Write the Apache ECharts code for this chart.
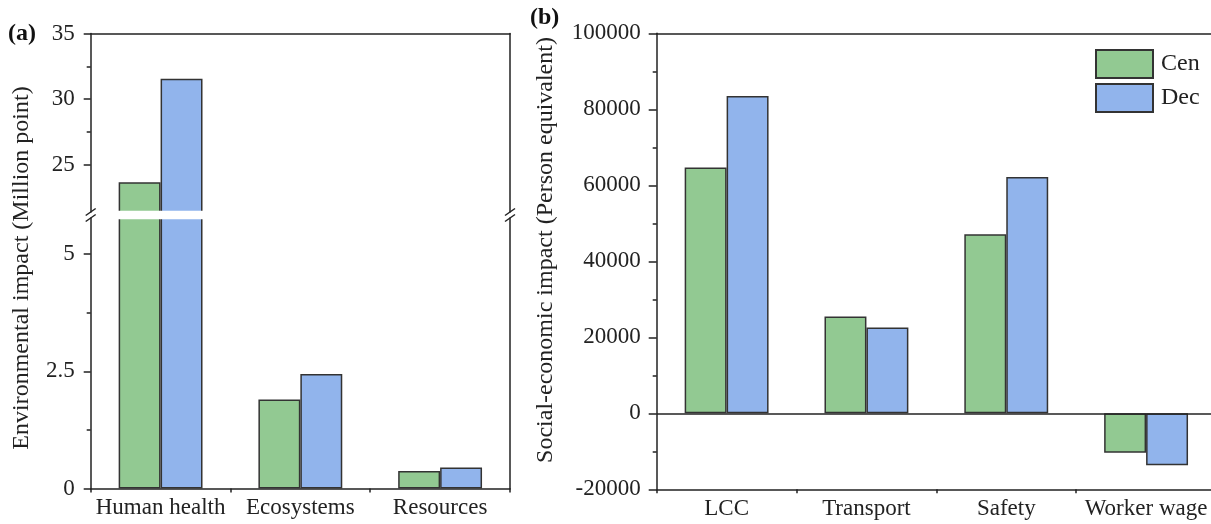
<!DOCTYPE html>
<html>
<head>
<meta charset="utf-8">
<script src="https://cdn.jsdelivr.net/npm/echarts@6/dist/echarts.min.js"></script>
<style>
html,body{margin:0;padding:0;background:#fff;}
#c{width:1211px;height:524px;}
</style>
</head>
<body>
<div id="c"></div>
<script>
// ---- data ----
const categoriesA = ['Human health', 'Ecosystems', 'Resources'];
const cenA = [23.66, 1.90, 0.375];
const decA = [31.55, 2.44, 0.45];
const categoriesB = ['LCC', 'Transport', 'Safety', 'Worker wage'];
const cenB = [64700, 25500, 47100, -10400];
const decB = [83500, 22600, 62200, -13700];
const seriesNames = ['Cen', 'Dec'];
const upperLabelTicks = [25, 30, 35];
const upperMinorTicks = [27.5, 32.5];
const lowerLabelTicks = [0, 2.5, 5];
const lowerMinorTicks = [1.25, 3.75];

// ---- layout / style ----
const FONT = "'Liberation Serif', 'Times New Roman', serif";
const AX = '#222';
const GREEN = '#92C992';
const BLUE = '#91B4EC';
const EDGE = '#333';
const upperMin = 21.39, upperMax = 35, lowerMin = 0, lowerMax = 5.77;
const gA = {left: 90.7, width: 419.3};
const gUpper = {top: 33.5, height: 178.5};
const gLower = {top: 218, height: 270.5};
const gB = {left: 656.7, width: 559.3, top: 33.3, height: 456};

const chart = echarts.init(document.getElementById('c'), null, {renderer: 'canvas'});

const lineOnly = {show: true, lineStyle: {color: AX, width: 1.5}};
function catAxis(grid, data, pos, withLabels) {
  return {
    type: 'category', gridIndex: grid, data: data, position: pos,
    axisLine: Object.assign({onZero: false}, lineOnly),
    axisTick: withLabels ? {show: true, length: 4, inside: false, lineStyle: {color: AX, width: 1.5}} : {show: false},
    axisLabel: withLabels ? {show: true, interval: 0, color: '#222', fontFamily: FONT, fontSize: 23, margin: 8} : {show: false},
    splitLine: {show: false}
  };
}
function valAxis(grid, min, max, pos, opts) {
  return Object.assign({
    type: 'value', gridIndex: grid, min: min, max: max, position: pos,
    axisLine: {show: false}, axisTick: {show: false}, axisLabel: {show: false},
    splitLine: {show: false}
  }, opts);
}
const tickStyle = {color: AX, width: 1.5};
const labelStyle = {color: '#222', fontFamily: FONT, fontSize: 23, margin: 16};

const upperData = (arr) => arr.map(v => v > lowerMax ? v : '-');
const barCommon = {barGap: '0%', barCategoryGap: '40%', animation: false};

const option = {
  animation: false,
  grid: [
    Object.assign({outerBoundsMode: 'none', containLabel: false}, gA, gUpper),
    Object.assign({outerBoundsMode: 'none', containLabel: false}, gA, gLower),
    Object.assign({outerBoundsMode: 'none', containLabel: false}, gB)
  ],
  xAxis: [
    catAxis(0, categoriesA, 'top', false),
    catAxis(1, categoriesA, 'bottom', true),
    catAxis(2, categoriesB, 'bottom', true),
    catAxis(2, categoriesB, 'top', false)
  ],
  yAxis: [
    valAxis(0, upperMin, upperMax, 'left', {
      axisLine: lineOnly,
      axisLabel: Object.assign({show: true, customValues: upperLabelTicks}, labelStyle),
      axisTick: {show: true, length: 7, customValues: upperLabelTicks, lineStyle: tickStyle}
    }),
    valAxis(0, upperMin, upperMax, 'left', {
      axisTick: {show: true, length: 4, customValues: upperMinorTicks, lineStyle: tickStyle}
    }),
    valAxis(0, upperMin, upperMax, 'right', {axisLine: lineOnly}),
    valAxis(1, lowerMin, lowerMax, 'left', {
      axisLine: lineOnly,
      axisLabel: Object.assign({show: true, customValues: lowerLabelTicks}, labelStyle),
      axisTick: {show: true, length: 7, customValues: lowerLabelTicks, lineStyle: tickStyle}
    }),
    valAxis(1, lowerMin, lowerMax, 'left', {
      axisTick: {show: true, length: 4, customValues: lowerMinorTicks, lineStyle: tickStyle}
    }),
    valAxis(1, lowerMin, lowerMax, 'right', {axisLine: lineOnly}),
    valAxis(2, -20000, 100000, 'left', {
      interval: 20000,
      axisLine: lineOnly,
      axisLabel: Object.assign({show: true, formatter: (v) => String(v)}, labelStyle),
      axisTick: {show: true, length: 8, lineStyle: tickStyle},
      minorTick: {show: true, splitNumber: 2, length: 4, lineStyle: tickStyle}
    })
  ],
  legend: {
    data: seriesNames, orient: 'vertical', left: 1095, top: 49, padding: 0,
    itemWidth: 57, itemHeight: 28, itemGap: 4, icon: 'rect',
    textStyle: {fontFamily: FONT, fontSize: 24, color: '#222', padding: [0, 0, 0, 3]}
  },
  series: [
    Object.assign({type: 'bar', name: 'Cen', xAxisIndex: 0, yAxisIndex: 0, data: upperData(cenA),
      itemStyle: {color: GREEN, borderColor: EDGE, borderWidth: 1.5}}, barCommon),
    Object.assign({type: 'bar', name: 'Dec', xAxisIndex: 0, yAxisIndex: 0, data: upperData(decA),
      itemStyle: {color: BLUE, borderColor: EDGE, borderWidth: 1.5}}, barCommon),
    Object.assign({type: 'bar', name: 'Cen', xAxisIndex: 1, yAxisIndex: 3, data: cenA,
      itemStyle: {color: GREEN, borderColor: EDGE, borderWidth: 1.5}}, barCommon),
    Object.assign({type: 'bar', name: 'Dec', xAxisIndex: 1, yAxisIndex: 3, data: decA,
      itemStyle: {color: BLUE, borderColor: EDGE, borderWidth: 1.5}}, barCommon),
    Object.assign({type: 'bar', name: 'Cen', xAxisIndex: 2, yAxisIndex: 6, data: cenB,
      itemStyle: {color: GREEN, borderColor: EDGE, borderWidth: 1.5},
      markLine: {silent: true, symbol: 'none', animation: false, label: {show: false},
        lineStyle: {color: AX, width: 1.5, type: 'solid'}, data: [{yAxis: 0}]}}, barCommon),
    Object.assign({type: 'bar', name: 'Dec', xAxisIndex: 2, yAxisIndex: 6, data: decB,
      itemStyle: {color: BLUE, borderColor: EDGE, borderWidth: 1.5}}, barCommon)
  ]
};
chart.setOption(option);

// axis break decoration & texts
const xL = gA.left, xR = gA.left + gA.width;
function slashes(x) {
  return [212, 218].map(y => ({
    type: 'line', z: 101,
    shape: {x1: x - 5, y1: y + 3.5, x2: x + 5, y2: y - 3.5},
    style: {stroke: AX, lineWidth: 1.5}
  }));
}
chart.setOption({
  graphic: [
    {type: 'rect', z: 100, shape: {x: xL + 1.5, y: 210.7, width: xR - xL - 3, height: 8.6},
      style: {fill: '#fff'}},
    ...slashes(xL), ...slashes(xR),
    {type: 'text', z: 100, x: 8, y: 34, style: {text: '(a)', font: 'bold 24px ' + FONT, fill: '#111', textVerticalAlign: 'middle'}},
    {type: 'text', z: 100, x: 530, y: 18, style: {text: '(b)', font: 'bold 24px ' + FONT, fill: '#111', textVerticalAlign: 'middle'}},
    {type: 'text', z: 100, x: 22, y: 268, rotation: Math.PI / 2,
      style: {text: 'Environmental impact (Million point)', font: '24px ' + FONT, fill: '#222', textAlign: 'center', textVerticalAlign: 'middle'}},
    {type: 'text', z: 100, x: 546, y: 250, rotation: Math.PI / 2,
      style: {text: 'Social-economic impact (Person equivalent)', font: '24px ' + FONT, fill: '#222', textAlign: 'center', textVerticalAlign: 'middle'}}
  ]
});
</script>
</body>
</html>
